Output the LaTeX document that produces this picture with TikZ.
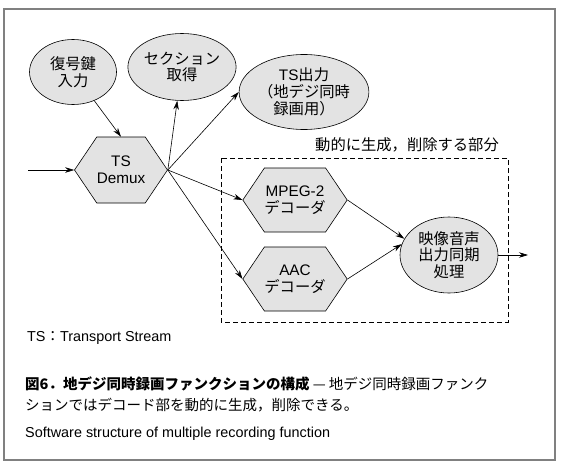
\documentclass[tikz,border=0pt]{standalone}
\usepackage{fontspec}
\setmainfont{Liberation Sans}
\newfontfamily\jp{Noto Sans CJK JP}
\usetikzlibrary{shapes.geometric,shapes.symbols,arrows.meta}
\tikzset{
        x=1pt, y=-1pt,
        txt/.style={font=\fontsize{15.3}{16.8}\selectfont},
        oval/.style={txt, ellipse, draw=black, line width=0.6pt, fill=black!11, align=center, inner sep=0pt},
        hexa/.style={txt, signal, signal to=west and east, signal pointer angle=112, draw=black, line width=0.6pt,
          fill=black!11, align=center, inner sep=0pt, minimum width=92pt, minimum height=66pt},
        arr/.style={-{Stealth[length=9pt,width=5.5pt]}, line width=0.6pt},
        zone/.style={draw=black, dashed, dash pattern=on 5pt off 3pt, line width=0.6pt},
        frame/.style={draw=black!50, line width=1.4pt},
        note/.style={anchor=west, inner sep=0pt, font=\fontsize{14.4}{16}\selectfont},
        caption/.style={anchor=west, inner sep=0pt, font=\jp\fontsize{14.5}{17}\selectfont}
          }
\begin{document}
\begin{tikzpicture}
            \useasboundingbox (0,0) rectangle (565,471);
            \draw[frame] (4,9) rectangle (555,460);
            % nodes
            \node[oval, minimum width=87pt, minimum height=65pt] (key) at (73,72) {\jp 復号鍵\\\jp 入力};
            \node[oval, minimum width=90pt, minimum height=67pt] (section) at (182,67) {\jp セクション\\\jp 取得};
            \node[oval, minimum width=98pt, minimum height=75pt] (tsout) at (304,92) {TS{\jp 出力}\\\jp （地デジ同時\\\jp 録画用）};
            \node[hexa] (demux) at (121,170) {TS\\Demux};
            \node[hexa, minimum width=90pt, minimum height=64pt] (mpeg) at (295,200) {MPEG-2\\\jp デコーダ};
            \node[hexa, minimum width=90pt, minimum height=64pt] (aac) at (295,279) {AAC\\\jp デコーダ};
            \node[oval, minimum width=98pt, minimum height=76pt] (sync) at (449,255) {\jp 映像音声\\\jp 出力同期\\\jp 処理};
            \coordinate (in) at (28,170);
            \coordinate (out) at (528,255);
            % dynamic part
            \draw[zone] (221,158) rectangle (508,322);
            \node[txt, anchor=south east, inner sep=0pt] (zonelabel) at (499,152) {\jp 動的に生成，削除する部分};
            % connectors
            \draw[arr] (in) -- (demux.west);
            \draw[arr] (key) -- (demux.north);
            \draw[arr] (demux.east) -- (section.262);
            \draw[arr] (demux.east) -- (tsout.west);
            \draw[arr] (demux.east) -- (mpeg.west);
            \draw[arr] (demux.east) -- (aac.west);
            \draw[arr] (mpeg.east) -- (sync.160);
            \draw[arr] (aac.east) -- (sync.167);
            \draw[arr] (sync.east) -- (out);
            % texts
            \node[note] (abbr) at (27,338) {TS{\jp ：}Transport Stream};
            \node[caption] (cap1) at (25,384) {\bfseries 図6．地デジ同時録画ファンクションの構成\mdseries\ — 地デジ同時録画ファンク};
            \node[caption] (cap2) at (25,405) {ションではデコード部を動的に生成，削除できる。};
            \node[note] (english) at (25,434) {Software structure of multiple recording function};
\end{tikzpicture}
\end{document}
